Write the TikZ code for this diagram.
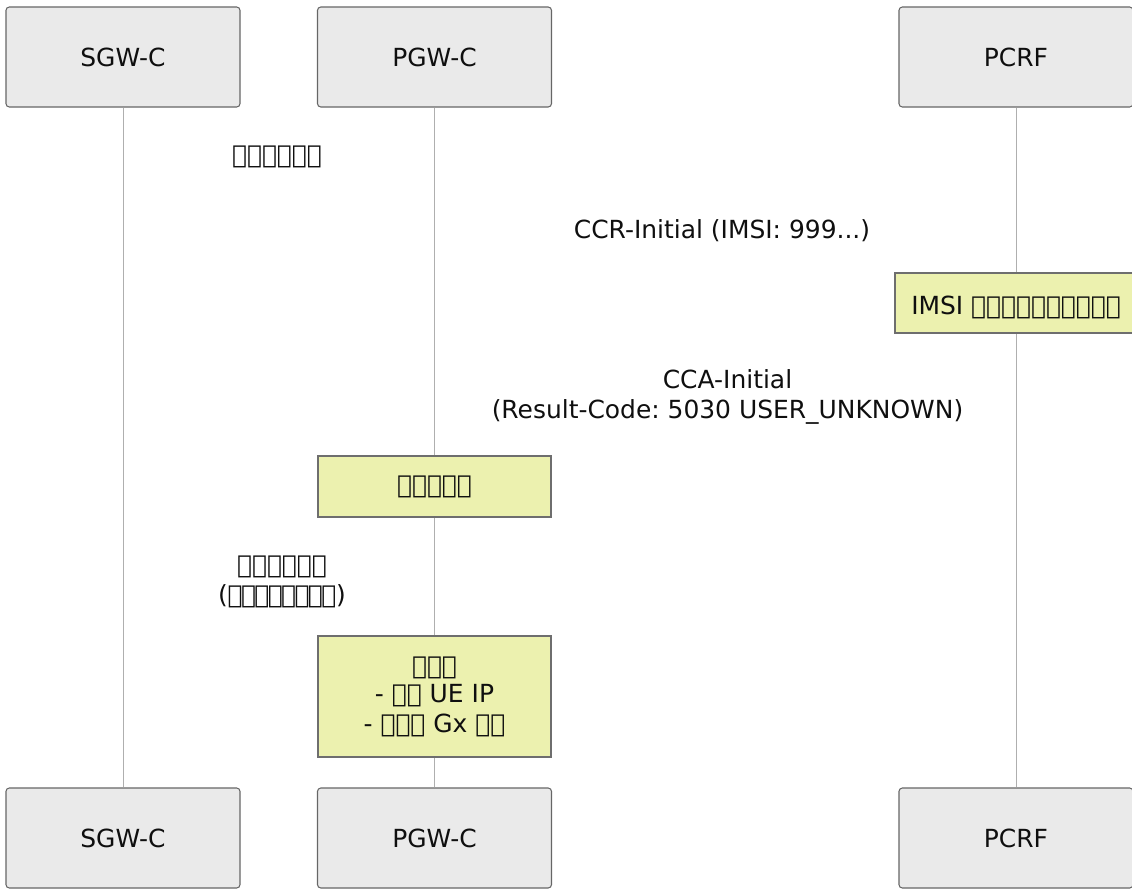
\documentclass[tikz,border=0pt]{standalone}
\usepackage{fontspec}
\setmainfont{DejaVu Sans}
\frenchspacing
\newcommand{\tofu}{\XeTeXglyph 0\relax}
\newcommand{\tofun}{\XeTeXglyph 0\kern-1.2pt\relax}
\definecolor{actfill}{RGB}{234,234,234}
\definecolor{actdraw}{RGB}{102,102,102}
\definecolor{notefill}{RGB}{236,241,175}
\definecolor{notedraw}{RGB}{110,110,110}
\definecolor{lifecol}{RGB}{175,175,175}
\definecolor{txt}{RGB}{15,15,15}
\tikzset{
  actor/.style={draw=actdraw, fill=actfill, line width=0.8pt, rounded corners=2.5pt,
    minimum width=175.5pt, minimum height=75pt, inner sep=0pt, text=txt},
  notebox/.style={draw=notedraw, fill=notefill, line width=0.8pt, inner sep=0pt, text=txt, align=center},
  msg/.style={text=txt, align=center, inner sep=0pt},
  life/.style={draw=lifecol, line width=0.7pt}
}
\begin{document}
\begin{tikzpicture}[x=0.75pt,y=-0.75pt, font=\fontsize{18.7}{22.5}\selectfont\frenchspacing]
\useasboundingbox (0,0) rectangle (1132,890);
% actors
\node[actor] (sgwT) at (123,57) {SGW-C};
\node[actor] (pgwT) at (434.5,57) {PGW-C};
\node[actor] (pcrfT) at (1016,57) {PCRF};
\node[actor] (sgwB) at (123,838) {SGW-C};
\node[actor] (pgwB) at (434.5,838) {PGW-C};
\node[actor] (pcrfB) at (1016,838) {PCRF};
% lifelines
\draw[life] (sgwT.south) -- (sgwB.north);
\draw[life] (pgwT.south) -- (pgwB.north);
\draw[life] (pcrfT.south) -- (pcrfB.north);
% messages
\node[msg] (m1) at (277,157) {\tofu\tofu\tofu\tofu\tofu\tofu};
\node[msg] (m2) at (722,231) {CCR-Initial (IMSI: 999...)};
\node[notebox, minimum width=187.5pt, minimum height=45pt] (n1) at (1020,303) {};
\node[msg, anchor=west] (n1t) at (911,307) {IMSI \tofu\tofu\tofu\tofu\tofu\tofu\tofu\tofu\tofu\tofu};
\node[msg] (m3) at (727.5,397) {CCA-Initial\\(Result-Code: 5030 USER\_UNKNOWN)};
\node[notebox, minimum width=174.75pt, minimum height=45.75pt] (n2) at (434.5,486.5) {\raisebox{-1.5pt}{\tofu\tofu\tofu\tofu\tofu}};
\node[msg] (m4) at (282,582) {\tofu\tofu\tofu\tofu\tofu\tofu\\(\tofun\tofun\tofun\tofun\tofun\tofun\tofun\tofu)};
\node[notebox, minimum width=174.75pt, minimum height=90.75pt] (n3) at (434.5,696.5) {\raisebox{-1.5pt}{\tofu\tofu\tofu}\\- \tofu\tofu{} UE IP\\- \tofu\tofu\tofu{} Gx \tofu\tofu};
\end{tikzpicture}
\end{document}
